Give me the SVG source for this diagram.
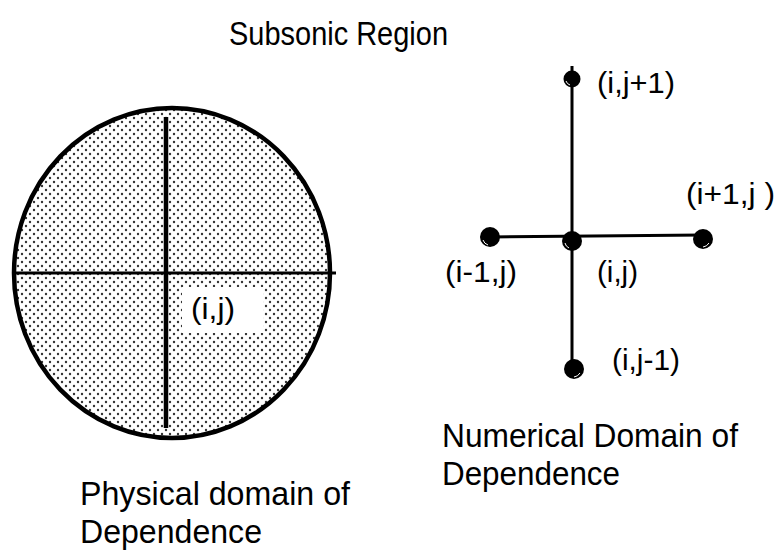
<svg xmlns="http://www.w3.org/2000/svg" width="777" height="550" viewBox="0 0 777 550">
<style>
text{font-family:"Liberation Sans",Arial,sans-serif;fill:#000}
.lbl{font-size:29px}
.big{font-size:33px}
.tall{font-size:34px}
.ln{stroke:#000;fill:none}
.dot{fill:#000}
.hl{fill:none;stroke:#fff;stroke-width:1}
</style>
<defs>
<pattern id="stip" width="8" height="8" patternUnits="userSpaceOnUse">
<rect width="8" height="8" fill="#fff"/>
<circle cx="2" cy="2" r="1.2" fill="#333"/>
<circle cx="6" cy="6" r="1.2" fill="#333"/>
</pattern>
</defs>
<rect width="777" height="550" fill="#fff"/>
<g id="title"><text class="tall" x="229" y="45" textLength="219" lengthAdjust="spacingAndGlyphs">Subsonic Region</text></g>
<g id="physical">
<ellipse cx="172" cy="273" rx="158" ry="165" fill="url(#stip)" stroke="#000" stroke-width="4.5"/>
<line class="ln" x1="14" y1="273" x2="336" y2="273" stroke-width="3"/>
<line class="ln" x1="166" y1="117" x2="166" y2="428" stroke-width="4.5"/>
<rect x="182" y="287" width="81" height="46" fill="#fff"/>
<text class="lbl" x="191" y="319" textLength="44" lengthAdjust="spacingAndGlyphs">(i,j)</text>
</g>
<g id="physical-caption">
<text class="tall" x="80" y="505" textLength="270" lengthAdjust="spacingAndGlyphs">Physical domain of</text>
<text class="tall" x="80" y="543" textLength="182" lengthAdjust="spacingAndGlyphs">Dependence</text>
</g>
<g id="connectors">
<line class="ln" x1="572" y1="66" x2="572" y2="370" stroke-width="3"/>
<line class="ln" x1="490" y1="237" x2="703" y2="235" stroke-width="3"/>
</g>
<g id="n-ij1"><circle class="dot" cx="572" cy="79" r="8.5"/><path class="hl" d="M566 81 A6 6 0 0 0 570 85"/><text class="lbl" x="597" y="93" textLength="78" lengthAdjust="spacingAndGlyphs">(i,j+1)</text></g>
<g id="n-i1j"><circle class="dot" cx="703" cy="239" r="10"/><path class="hl" d="M709 243 A8 8 0 0 1 703 247"/><text class="lbl" x="686" y="204" textLength="89" lengthAdjust="spacingAndGlyphs">(i+1,j )</text></g>
<g id="n-im1j"><circle class="dot" cx="490" cy="237" r="10"/><path class="hl" d="M483 240 A8 8 0 0 0 488 245"/><text class="lbl" x="445" y="282" textLength="72" lengthAdjust="spacingAndGlyphs">(i-1,j)</text></g>
<g id="n-ij"><circle class="dot" cx="572" cy="241" r="10"/><path class="hl" d="M565 243 A7 7 0 0 0 569 248"/><text class="lbl" x="597" y="282" textLength="41" lengthAdjust="spacingAndGlyphs">(i,j)</text></g>
<g id="n-ijm1"><circle class="dot" cx="574" cy="369" r="10"/><path class="hl" d="M580 373 A8 8 0 0 1 574 377"/><text class="lbl" x="612" y="370" textLength="68" lengthAdjust="spacingAndGlyphs">(i,j-1)</text></g>
<g id="numerical-caption">
<text class="big" x="442" y="447" textLength="296" lengthAdjust="spacingAndGlyphs">Numerical Domain of</text>
<text class="big" x="442" y="485" textLength="178" lengthAdjust="spacingAndGlyphs">Dependence</text>
</g>
</svg>
